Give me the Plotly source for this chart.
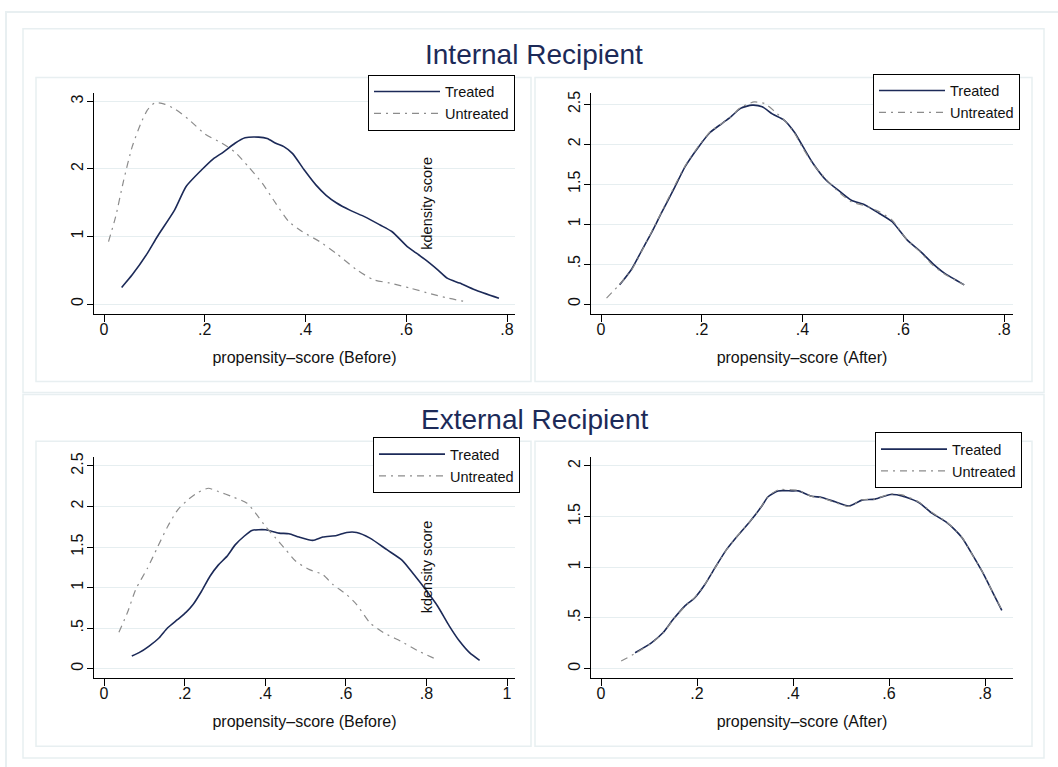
import plotly.graph_objects as go

W, H = 1058, 767

# ---------------- DATA ----------------
# Internal recipient, before matching
int_bef_tr_x = [0.035, 0.056, 0.086, 0.106, 0.14, 0.163, 0.193, 0.217, 0.237, 0.26, 0.28, 0.307, 0.324, 0.341, 0.357, 0.374, 0.398, 0.421, 0.441, 0.461, 0.488, 0.518, 0.548, 0.572, 0.602, 0.615, 0.639, 0.662, 0.682, 0.706, 0.736, 0.784]
int_bef_tr_y = [0.246, 0.433, 0.75, 1.0, 1.39, 1.74, 1.98, 2.15, 2.25, 2.38, 2.46, 2.47, 2.45, 2.38, 2.33, 2.23, 1.98, 1.76, 1.61, 1.5, 1.39, 1.29, 1.17, 1.07, 0.85, 0.78, 0.65, 0.51, 0.38, 0.31, 0.21, 0.084]
int_bef_un_x = [0.009, 0.023, 0.039, 0.056, 0.073, 0.086, 0.101, 0.12, 0.14, 0.167, 0.2, 0.234, 0.26, 0.287, 0.314, 0.341, 0.367, 0.394, 0.428, 0.461, 0.501, 0.535, 0.568, 0.608, 0.649, 0.682, 0.721]
int_bef_un_y = [0.925, 1.29, 1.83, 2.33, 2.67, 2.87, 2.98, 2.96, 2.89, 2.74, 2.52, 2.38, 2.25, 2.03, 1.79, 1.49, 1.22, 1.07, 0.925, 0.75, 0.51, 0.36, 0.31, 0.236, 0.15, 0.089, 0.03]

# Internal recipient, after matching
int_aft_tr_x = [0.037, 0.06, 0.08, 0.1, 0.12, 0.147, 0.167, 0.194, 0.217, 0.24, 0.257, 0.277, 0.3, 0.32, 0.34, 0.364, 0.384, 0.401, 0.421, 0.447, 0.474, 0.497, 0.524, 0.551, 0.578, 0.608, 0.634, 0.658, 0.681, 0.721]
int_aft_tr_y = [0.24, 0.43, 0.66, 0.89, 1.14, 1.47, 1.72, 1.97, 2.15, 2.26, 2.34, 2.45, 2.49, 2.47, 2.38, 2.3, 2.15, 1.97, 1.76, 1.55, 1.41, 1.3, 1.24, 1.14, 1.03, 0.8, 0.66, 0.51, 0.39, 0.24]
int_aft_un_x = [0.011, 0.033, 0.06, 0.08, 0.1, 0.12, 0.147, 0.167, 0.194, 0.217, 0.24, 0.257, 0.277, 0.304, 0.325, 0.345, 0.364, 0.384, 0.401, 0.421, 0.447, 0.474, 0.497, 0.524, 0.551, 0.578, 0.608, 0.634, 0.658, 0.681, 0.721]
int_aft_un_y = [0.075, 0.22, 0.42, 0.65, 0.9, 1.15, 1.49, 1.73, 1.98, 2.16, 2.26, 2.34, 2.46, 2.53, 2.51, 2.41, 2.3, 2.14, 1.95, 1.75, 1.56, 1.39, 1.28, 1.23, 1.16, 1.05, 0.8, 0.65, 0.49, 0.38, 0.24]

# External recipient, before matching
ext_bef_tr_x = [0.069, 0.087, 0.112, 0.137, 0.158, 0.183, 0.204, 0.221, 0.242, 0.263, 0.284, 0.305, 0.326, 0.347, 0.367, 0.401, 0.434, 0.459, 0.484, 0.518, 0.543, 0.577, 0.602, 0.627, 0.66, 0.702, 0.74, 0.769, 0.798, 0.828, 0.857, 0.882, 0.907, 0.932]
ext_bef_tr_y = [0.156, 0.197, 0.279, 0.381, 0.504, 0.607, 0.697, 0.791, 0.955, 1.14, 1.28, 1.385, 1.53, 1.63, 1.705, 1.713, 1.672, 1.664, 1.623, 1.582, 1.623, 1.643, 1.68, 1.68, 1.61, 1.467, 1.336, 1.16, 0.975, 0.77, 0.525, 0.34, 0.197, 0.102]
ext_bef_un_x = [0.037, 0.058, 0.079, 0.108, 0.133, 0.158, 0.183, 0.208, 0.233, 0.259, 0.284, 0.317, 0.355, 0.376, 0.401, 0.426, 0.451, 0.476, 0.51, 0.543, 0.568, 0.602, 0.627, 0.66, 0.694, 0.736, 0.777, 0.828]
ext_bef_un_y = [0.45, 0.689, 0.98, 1.24, 1.5, 1.754, 1.959, 2.082, 2.172, 2.225, 2.184, 2.123, 2.041, 1.918, 1.754, 1.61, 1.467, 1.324, 1.221, 1.16, 1.037, 0.914, 0.791, 0.566, 0.443, 0.34, 0.225, 0.107]

# External recipient, after matching
ext_aft_tr_x = [0.071, 0.105, 0.129, 0.15, 0.174, 0.195, 0.216, 0.237, 0.261, 0.286, 0.31, 0.334, 0.348, 0.369, 0.397, 0.411, 0.439, 0.46, 0.488, 0.516, 0.544, 0.571, 0.603, 0.627, 0.662, 0.69, 0.718, 0.739, 0.753, 0.774, 0.794, 0.815, 0.835]
ext_aft_tr_y = [0.157, 0.255, 0.354, 0.484, 0.615, 0.697, 0.828, 0.992, 1.172, 1.319, 1.45, 1.597, 1.696, 1.754, 1.754, 1.754, 1.702, 1.689, 1.646, 1.604, 1.663, 1.673, 1.718, 1.705, 1.64, 1.532, 1.45, 1.362, 1.286, 1.123, 0.959, 0.763, 0.576]
ext_aft_un_x = [0.042, 0.071, 0.105, 0.129, 0.15, 0.174, 0.195, 0.216, 0.237, 0.261, 0.286, 0.31, 0.334, 0.348, 0.369, 0.397, 0.411, 0.439, 0.46, 0.488, 0.516, 0.544, 0.571, 0.603, 0.627, 0.662, 0.69, 0.718, 0.739, 0.753, 0.774, 0.794, 0.815, 0.835]
ext_aft_un_y = [0.075, 0.15, 0.25, 0.35, 0.48, 0.61, 0.7, 0.83, 0.99, 1.17, 1.32, 1.45, 1.6, 1.7, 1.765, 1.765, 1.76, 1.7, 1.685, 1.64, 1.6, 1.665, 1.675, 1.725, 1.715, 1.645, 1.54, 1.455, 1.365, 1.29, 1.12, 0.96, 0.765, 0.58]

series_names = ["Treated", "Untreated"]
x_tick_vals_a = [0, 0.2, 0.4, 0.6, 0.8]
x_tick_text_a = ["0", ".2", ".4", ".6", ".8"]
x_tick_vals_b = [0, 0.2, 0.4, 0.6, 0.8, 1]
x_tick_text_b = ["0", ".2", ".4", ".6", ".8", "1"]
y_ticks_tl = [0, 1, 2, 3]
y_text_tl = ["0", "1", "2", "3"]
y_ticks_25 = [0, 0.5, 1, 1.5, 2, 2.5]
y_text_25 = ["0", ".5", "1", "1.5", "2", "2.5"]
y_ticks_20 = [0, 0.5, 1, 1.5, 2]
y_text_20 = ["0", ".5", "1", "1.5", "2"]
x_titles = ["propensity\u2013score (Before)", "propensity\u2013score (After)"]
panel_titles = ["Internal Recipient", "External Recipient"]
side_label = "kdensity score"

# ---------------- STYLE ----------------
FONT = "Arial, Liberation Sans, sans-serif"
NAVY = "#1c2a58"
GRAY = "#8c8c8c"
FRAME = "#e8eff1"
GRID = "#e6eef0"
TXT = "#111111"

def px_x(p):
    return p / W

def px_y(p):
    return 1 - p / H

def x_axis_geom(left, right, p0, v0, p1, v1):
    s = (p1 - p0) / (v1 - v0)
    return [px_x(left), px_x(right)], [v0 + (left - p0) / s, v0 + (right - p0) / s]

def y_axis_geom(top, bottom, p0, v0, p1, v1):
    s = (p0 - p1) / (v1 - v0)
    return [px_y(bottom), px_y(top)], [v0 + (p0 - bottom) / s, v0 + (p0 - top) / s]

panels = [
    dict(xg=(94, 515, 104, 0, 507, 0.8), yg=(89, 311, 301, 0, 97, 3),
         xt=(x_tick_vals_a, x_tick_text_a), yt=(y_ticks_tl, y_text_tl), title=x_titles[0],
         data=((int_bef_tr_x, int_bef_tr_y), (int_bef_un_x, int_bef_un_y)),
         legend=(368, 70)),
    dict(xg=(591, 1013, 601, 0, 1004, 0.8), yg=(89, 311, 301, 0, 100, 2.5),
         xt=(x_tick_vals_a, x_tick_text_a), yt=(y_ticks_25, y_text_25), title=x_titles[1],
         data=((int_aft_tr_x, int_aft_tr_y), (int_aft_un_x, int_aft_un_y)),
         legend=(873, 69)),
    dict(xg=(94, 515, 104, 0, 507, 1.0), yg=(455, 677, 668, 0, 464, 2.5),
         xt=(x_tick_vals_b, x_tick_text_b), yt=(y_ticks_25, y_text_25), title=x_titles[0],
         data=((ext_bef_tr_x, ext_bef_tr_y), (ext_bef_un_x, ext_bef_un_y)),
         legend=(373, 435)),
    dict(xg=(591, 1013, 601, 0, 985, 0.8), yg=(455, 677, 668, 0, 464, 2),
         xt=(x_tick_vals_a, x_tick_text_a), yt=(y_ticks_20, y_text_20), title=x_titles[1],
         data=((ext_aft_tr_x, ext_aft_tr_y), (ext_aft_un_x, ext_aft_un_y)),
         legend=(875, 430)),
]

fig = go.Figure()
layout = dict(
    width=W, height=H,
    margin=dict(l=0, r=0, t=0, b=0),
    paper_bgcolor="white", plot_bgcolor="white",
    font=dict(family=FONT, size=16, color=TXT),
    showlegend=True,
)

for i, p in enumerate(panels):
    k = "" if i == 0 else str(i + 1)
    xdom, xrng = x_axis_geom(*p["xg"])
    ydom, yrng = y_axis_geom(*p["yg"])
    leg = "legend" + k
    (tx, ty), (ux, uy) = p["data"]
    fig.add_trace(go.Scatter(x=tx, y=ty, mode="lines", name=series_names[0],
                             line=dict(color=NAVY, width=1.6, shape="spline", smoothing=0.6),
                             xaxis="x" + k, yaxis="y" + k, legend=leg))
    fig.add_trace(go.Scatter(x=ux, y=uy, mode="lines", name=series_names[1],
                             line=dict(color=GRAY, width=1.2, dash="7px,5px,2px,5px",
                                       shape="spline", smoothing=0.6),
                             xaxis="x" + k, yaxis="y" + k, legend=leg))
    layout["xaxis" + k] = dict(
        domain=xdom, range=xrng, anchor="y" + k,
        tickmode="array", tickvals=p["xt"][0], ticktext=p["xt"][1],
        ticks="outside", ticklen=7, tickcolor="black", tickwidth=1,
        showline=True, linecolor="black", linewidth=1.2,
        showgrid=False, zeroline=False,
        tickfont=dict(size=16, color=TXT),
        ticklabelstandoff=-6,
        title=dict(text=p["title"], font=dict(size=16, color=TXT), standoff=14),
    )
    layout["yaxis" + k] = dict(
        domain=ydom, range=yrng, anchor="x" + k,
        tickmode="array", tickvals=p["yt"][0], ticktext=p["yt"][1],
        ticks="outside", ticklen=6, tickcolor="black", tickwidth=1,
        tickangle=-90, ticklabelstandoff=-2,
        showline=True, linecolor="black", linewidth=1.2,
        showgrid=True, gridcolor=GRID, gridwidth=1.2, zeroline=False,
        tickfont=dict(size=16, color=TXT),
    )
    lx, ly = p["legend"]
    layout[leg] = dict(
        x=px_x(lx), y=px_y(ly), xanchor="left", yanchor="top",
        bgcolor="white", bordercolor="black", borderwidth=1,
        font=dict(size=14.5, color=TXT), itemwidth=66,
        tracegroupgap=0,
    )

fig.update_layout(**layout)

# frames
frames = [
    (6, 7, 1070, 780, 2),
    (23, 24, 1044, 390, 1.5),
    (23, 392, 1044, 758, 1.5),
    (36, 73, 531, 379, 1.5),
    (535, 73, 1032, 379, 1.5),
    (36, 439, 531, 746, 1.5),
    (535, 439, 1032, 746, 1.5),
]
for x0, y0, x1, y1, w in frames:
    fig.add_shape(type="rect", xref="paper", yref="paper",
                  x0=px_x(x0), x1=px_x(x1), y0=px_y(y1), y1=px_y(y0),
                  line=dict(color=FRAME, width=w), fillcolor="rgba(0,0,0,0)", layer="below")

# panel titles
for t, yy in zip(panel_titles, [50, 417]):
    fig.add_annotation(text=t, x=px_x(534), y=px_y(yy), xref="paper", yref="paper",
                       xanchor="center", yanchor="middle", showarrow=False,
                       font=dict(size=28, color=NAVY, family=FONT))

# stray y-axis titles
for yy in [200, 566]:
    fig.add_annotation(text=side_label, x=px_x(427), y=px_y(yy), xref="paper", yref="paper",
                       xanchor="center", yanchor="middle", showarrow=False, textangle=-90,
                       font=dict(size=14.5, color=TXT, family=FONT))

fig.write_html("out.html", config={"displayModeBar": False},
               post_script="document.body.style.margin='0';document.body.style.overflow='hidden';")
